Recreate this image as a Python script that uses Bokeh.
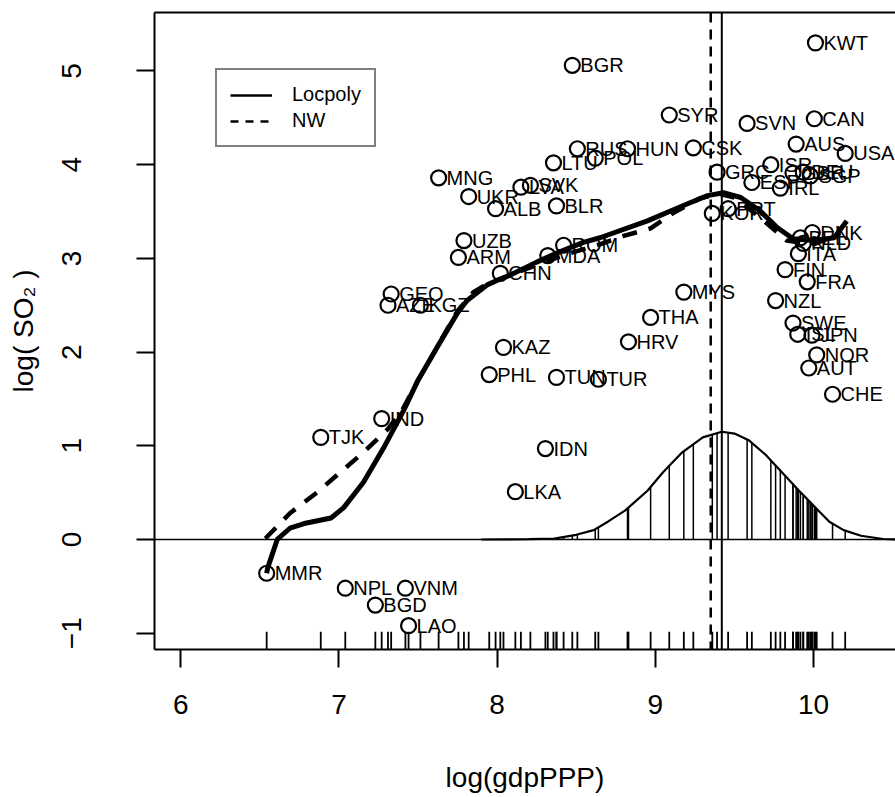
import numpy as np
from bokeh.plotting import figure
from bokeh.models import Range1d, FixedTicker, LinearAxis, Span, Legend, LegendItem, ColumnDataSource
from bokeh.core.properties import value
from bokeh.embed import file_html
from bokeh.resources import INLINE

# ---- data ----
countries = ["MMR", "TJK", "NPL", "BGD", "IND", "AZE", "GEO", "VNM", "LAO", "KGZ",
             "MNG", "ARM", "UZB", "UKR", "PHL", "ALB", "CHN", "KAZ", "LKA", "LVA",
             "SVK", "IDN", "MDA", "LTU", "BLR", "TUN", "ROM", "BGR", "RUS", "POL",
             "TUR", "HUN", "HRV", "THA", "SYR", "MYS", "CSK", "KOR", "GRC", "PRT",
             "SVN", "ESP", "ISR", "NZL", "IRL", "FIN", "GBR", "SWE", "AUS", "ITA",
             "ISL", "BEL", "NLD", "DEU", "FRA", "AUT", "SGP", "DNK", "JPN", "CAN",
             "KWT", "NOR", "CHE", "USA"]
log_gdp = [6.543, 6.885, 7.04, 7.23, 7.27, 7.31, 7.33, 7.42, 7.44, 7.515,
           7.63, 7.755, 7.79, 7.82, 7.95, 7.99, 8.02, 8.04, 8.115, 8.15,
           8.21, 8.305, 8.32, 8.356, 8.375, 8.375, 8.42, 8.475, 8.507, 8.62,
           8.64, 8.824, 8.83, 8.97, 9.088, 9.18, 9.24, 9.36, 9.39, 9.46,
           9.58, 9.61, 9.73, 9.76, 9.79, 9.82, 9.87, 9.87, 9.89, 9.904,
           9.90, 9.917, 9.935, 9.935, 9.96, 9.97, 9.98, 9.992, 9.99, 10.005,
           10.012, 10.02, 10.12, 10.20]
log_so2 = [-0.36, 1.09, -0.52, -0.70, 1.29, 2.50, 2.62, -0.52, -0.92, 2.50,
           3.86, 3.01, 3.19, 3.66, 1.76, 3.53, 2.84, 2.05, 0.51, 3.76,
           3.78, 0.97, 3.03, 4.02, 3.56, 1.73, 3.14, 5.06, 4.17, 4.07,
           1.71, 4.17, 2.11, 2.37, 4.53, 2.64, 4.18, 3.48, 3.92, 3.53,
           4.44, 3.81, 4.00, 2.55, 3.75, 2.88, 3.91, 2.31, 4.22, 3.05,
           2.19, 3.22, 3.16, 3.92, 2.75, 1.83, 3.88, 3.276, 2.18, 4.49,
           5.30, 1.97, 1.55, 4.12]

locpoly_x = [6.543, 6.55, 6.61, 6.69, 6.78, 6.95, 7.03, 7.155, 7.28, 7.41, 7.50,
             7.62, 7.75, 7.81, 7.94, 8.02, 8.08, 8.25, 8.38, 8.545, 8.65, 8.95,
             9.20, 9.33, 9.43, 9.54, 9.66, 9.77, 9.87, 10.0, 10.13, 10.21]
locpoly_y = [-0.36, -0.30, 0.0, 0.12, 0.17, 0.23, 0.34, 0.61, 0.97, 1.38, 1.70,
             2.05, 2.42, 2.55, 2.72, 2.78, 2.82, 2.96, 3.06, 3.17, 3.22, 3.40,
             3.58, 3.67, 3.70, 3.65, 3.51, 3.33, 3.21, 3.19, 3.22, 3.40]

nw_x = [6.535, 6.69, 6.86, 7.01, 7.155, 7.31, 7.40, 7.50, 7.62, 7.75, 7.85,
        7.94, 8.05, 8.25, 8.45, 8.65, 8.80, 8.97, 9.11, 9.28, 9.40, 9.50,
        9.645, 9.83, 10.0, 10.17]
nw_y = [0.01, 0.28, 0.50, 0.72, 0.93, 1.18, 1.38, 1.70, 2.05, 2.44, 2.64,
        2.73, 2.80, 2.93, 3.05, 3.15, 3.24, 3.32, 3.48, 3.64, 3.69, 3.65,
        3.46, 3.19, 3.15, 3.27]

kernel_x = [7.9, 8.2, 8.36, 8.5, 8.61, 8.7, 8.81, 8.95, 9.05, 9.17, 9.30, 9.42,
            9.50, 9.59, 9.70, 9.81, 9.92, 10.03, 10.10, 10.19, 10.30, 10.44, 10.52]
kernel_y = [0.0, 0.003, 0.01, 0.05, 0.10, 0.19, 0.31, 0.52, 0.72, 0.93, 1.09, 1.15,
            1.13, 1.06, 0.90, 0.70, 0.50, 0.31, 0.19, 0.10, 0.04, 0.005, 0.0]

x0_locpoly = 9.42
x0_nw = 9.35

x_ticks = [6, 7, 8, 9, 10]
y_ticks = [-1, 0, 1, 2, 3, 4, 5]

FONT = "Liberation Sans"

p = figure(width=895, height=797,
           x_range=Range1d(5.834, 10.518), y_range=Range1d(-1.174, 5.624),
           output_backend="svg", toolbar_location=None,
           min_border_left=154, min_border_right=0, min_border_top=12, min_border_bottom=148,
           outline_line_color=None, background_fill_color="white", border_fill_color="white")
p.grid.visible = False

for ax in (p.xaxis[0], p.yaxis[0]):
    ax.axis_line_color = "black"
    ax.axis_line_width = 2
    ax.major_tick_line_color = "black"
    ax.major_tick_line_width = 2
    ax.major_tick_out = 18
    ax.major_tick_in = 0
    ax.minor_tick_line_color = None
    ax.major_label_text_font = FONT
    ax.major_label_text_font_size = "28px"
    ax.major_label_text_color = "black"
    ax.axis_label_text_font = FONT
    ax.axis_label_text_font_size = "28px"
    ax.axis_label_text_font_style = "normal"
    ax.axis_label_text_color = "black"

p.xaxis.ticker = FixedTicker(ticks=x_ticks)
p.yaxis.ticker = FixedTicker(ticks=y_ticks)
p.xaxis.axis_label = "log(gdpPPP)"
p.yaxis.axis_label = "log( SO\u2082 )"
p.xaxis.major_label_standoff = 27
p.xaxis.axis_label_standoff = 45
p.yaxis.major_label_orientation = "parallel"
p.yaxis.major_label_standoff = 55
p.yaxis.axis_label_standoff = 21

top_axis = LinearAxis(ticker=FixedTicker(ticks=[]), axis_line_color="black", axis_line_width=2,
                      major_label_text_font_size="0px", major_tick_line_color=None,
                      minor_tick_line_color=None)
p.add_layout(top_axis, "above")

# zero line and kernel centre lines
p.add_layout(Span(location=0, dimension="width", line_color="black", line_width=1.5))
p.add_layout(Span(location=x0_nw, dimension="height", line_color="black", line_width=2.5,
                  line_dash="10 7"))
p.add_layout(Span(location=x0_locpoly, dimension="height", line_color="black", line_width=2))

# kernel weight curve and stems at the data points
gx = np.array(log_gdp)
stem_h = np.interp(gx, kernel_x, kernel_y)
inside = stem_h > 0.004
p.segment(x0=gx[inside], y0=np.zeros(inside.sum()), x1=gx[inside], y1=stem_h[inside],
          line_color="black", line_width=1.5)
p.line(kernel_x, kernel_y, line_color="black", line_width=2.2)

# rug along the bottom
ystart = p.y_range.start
p.segment(x0=gx, y0=np.full(len(gx), ystart), x1=gx, y1=np.full(len(gx), ystart + 0.19),
          line_color="black", line_width=1.8)

# smoothers
p.line(nw_x, nw_y, line_color="black", line_width=4.5, line_dash="15 12")
p.line(locpoly_x, locpoly_y, line_color="black", line_width=5)

# points and labels
src = ColumnDataSource(dict(x=log_gdp, y=log_so2, lab=countries))
p.scatter("x", "y", source=src, size=15, fill_color=None, line_color="black", line_width=2.2)
p.text("x", "y", text="lab", source=src, x_offset=8, text_baseline="middle", text_align="left",
       text_font=value(FONT), text_font_size="20px", text_color="black")

# legend sample lines (kept outside the visible ranges)
r_lp = p.line([-10, -9], [-10, -10], line_color="black", line_width=2.5)
r_nw = p.line([-10, -9], [-10, -10], line_color="black", line_width=2.5, line_dash="8 7")
legend = Legend(items=[LegendItem(label="Locpoly", renderers=[r_lp]),
                       LegendItem(label="NW", renderers=[r_nw])],
                location=(61, 502), padding=13, spacing=3, glyph_width=42, glyph_height=20,
                label_standoff=20, label_text_font=FONT, label_text_font_size="20px",
                label_text_color="black",
                border_line_color="black", border_line_width=2, background_fill_alpha=1,
                margin=0)
p.add_layout(legend, "center")

open("out.html", "w").write(file_html(p, INLINE))
